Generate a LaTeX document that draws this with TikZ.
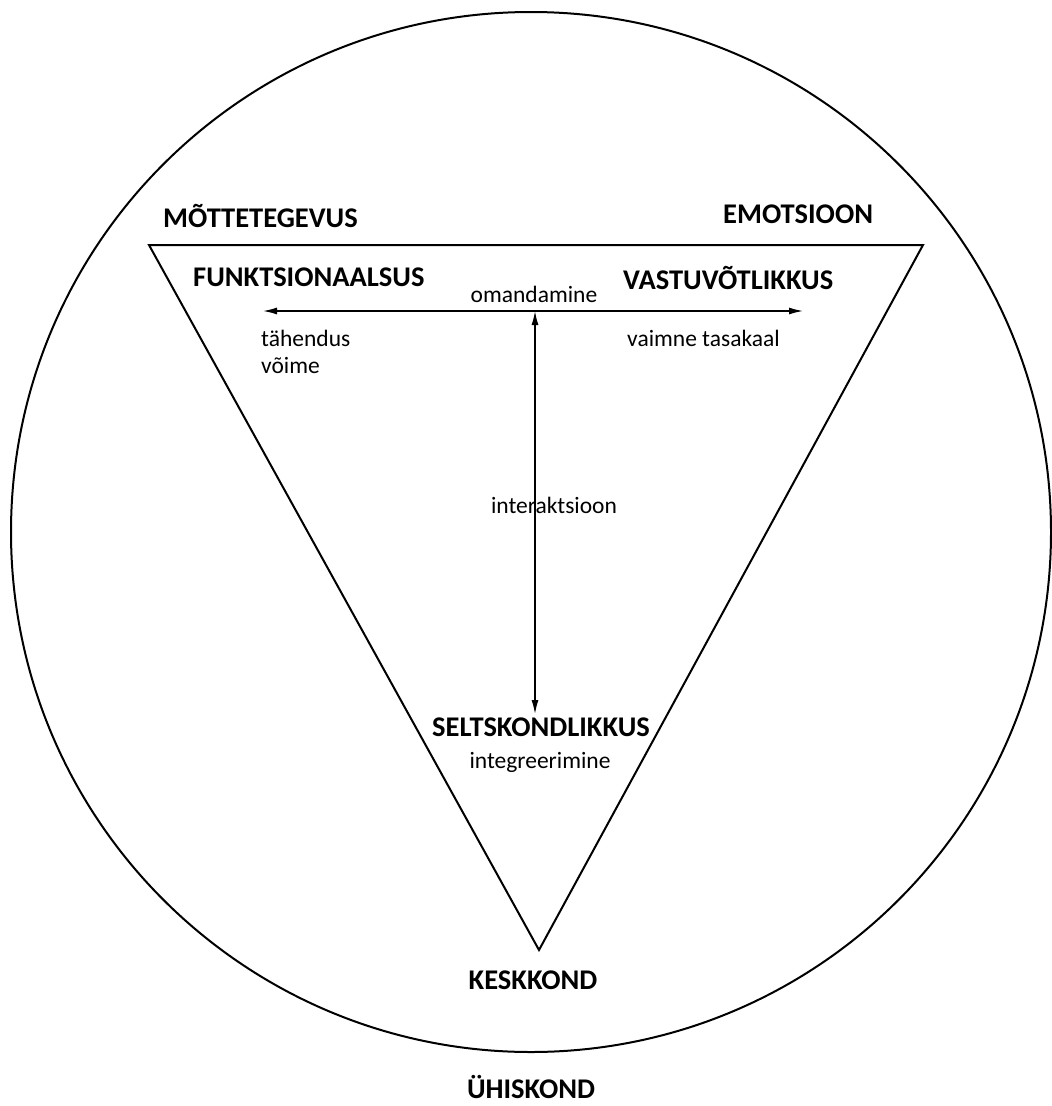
\documentclass[tikz,border=0pt]{standalone}
\usepackage{fontspec}
\setmainfont{Carlito}
\usetikzlibrary{arrows.meta}
\begin{document}
\begin{tikzpicture}[x=1pt,y=-1pt,
  big/.style={font=\fontsize{28.5}{32}\selectfont\bfseries, inner sep=0pt},
  small/.style={font=\fontsize{23.5}{27}\selectfont, inner sep=0pt},
  outline/.style={line width=2pt, black},
  conn/.style={line width=1.4pt, {Latex[length=14pt,width=7pt]}-{Latex[length=14pt,width=7pt]}}]
\useasboundingbox (0,0) rectangle (1052,1106);
% circle
\node[draw, outline, circle, minimum size=1040pt, inner sep=0pt] (society) at (531,532) {};
% triangle
\coordinate (tl) at (149,245);
\coordinate (tr) at (923,245);
\coordinate (tb) at (539,950);
\draw[outline, line join=miter] (tl) -- (tr) -- (tb) -- cycle;
% arrows
\coordinate (hl) at (263,311);
\coordinate (hr) at (803,311);
\coordinate (vt) at (535,311);
\coordinate (vb) at (535,714);
\draw[conn] (hl) -- (hr);
\draw[conn] (vt) -- (vb);
% labels
\node[big, anchor=west] (mt) at (163,216) {MÕTTETEGEVUS};
\node[big, anchor=west] (em) at (723,214) {EMOTSIOON};
\node[big, anchor=west] (fu) at (193,277) {FUNKTSIONAALSUS};
\node[big, anchor=west] (va) at (623,278) {VASTUVÕTLIKKUS};
\node[small] (om) at (534,294) {omandamine};
\node[small, anchor=west] (ta) at (261,338) {tähendus};
\node[small, anchor=west] (vo) at (261,365) {võime};
\node[small, anchor=west] (vt2) at (627,338) {vaimne tasakaal};
\node[small] (in) at (554,505) {interaktsioon};
\node[big] (se) at (541,727) {SELTSKONDLIKKUS};
\node[small] (ig) at (540,762) {integreerimine};
\node[big] (ke) at (533,980) {KESKKOND};
\node[big] (uh) at (531,1087) {ÜHISKOND};
\end{tikzpicture}
\end{document}
